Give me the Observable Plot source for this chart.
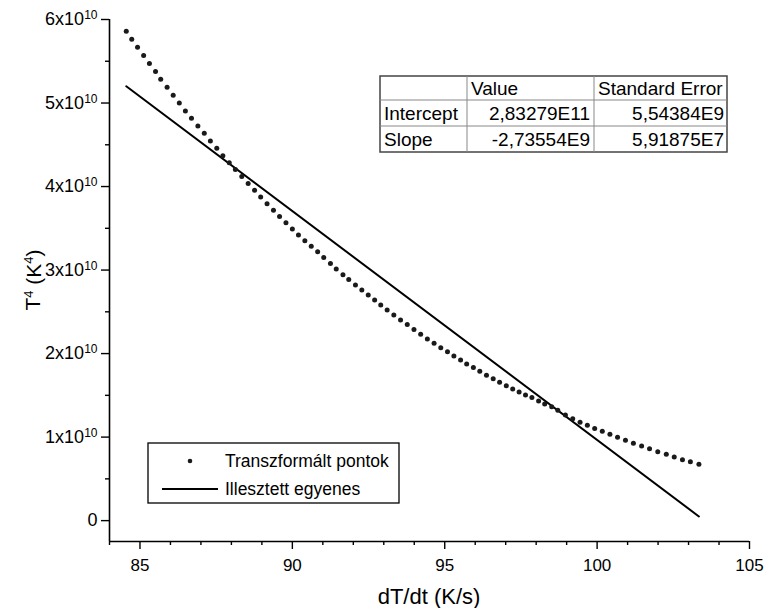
<!DOCTYPE html>
<html><head><meta charset="utf-8">
<script src="https://cdn.jsdelivr.net/npm/d3@7"></script>
<script src="https://cdn.jsdelivr.net/npm/@observablehq/plot@0.6"></script>
<style>
body{margin:0;background:#fff;}
svg{font-family:"Liberation Sans",Arial,sans-serif;}
</style>
</head><body><div id="chart"></div>
<script>
// dT/dt (K/s)
const dotX = [84.55,84.73,84.92,85.12,85.31,85.51,85.68,85.89,86.09,86.29,86.49,86.69,86.90,87.11,87.31,87.52,87.72,87.93,88.13,88.34,88.55,88.76,88.96,89.17,89.38,89.58,89.79,90.00,90.20,90.41,90.62,90.83,91.03,91.25,91.44,91.66,91.85,92.07,92.28,92.49,92.70,92.90,93.11,93.33,93.55,93.77,93.99,94.21,94.43,94.65,94.87,95.09,95.30,95.52,95.72,95.94,96.15,96.37,96.59,96.80,97.02,97.23,97.44,97.65,97.86,98.08,98.28,98.51,98.71,98.96,99.20,99.44,99.68,99.92,100.17,100.42,100.67,100.93,101.19,101.46,101.72,101.99,102.27,102.53,102.80,103.06,103.34];
// T^4 in units of 10^10 K^4
const dotY = [5.858,5.763,5.667,5.568,5.472,5.376,5.284,5.188,5.092,5.001,4.905,4.817,4.726,4.637,4.546,4.458,4.370,4.286,4.203,4.119,4.035,3.955,3.876,3.795,3.717,3.640,3.566,3.493,3.421,3.352,3.284,3.218,3.150,3.080,3.014,2.945,2.886,2.822,2.762,2.702,2.643,2.583,2.523,2.463,2.403,2.347,2.287,2.231,2.176,2.123,2.071,2.023,1.972,1.924,1.876,1.832,1.788,1.740,1.700,1.656,1.616,1.577,1.541,1.505,1.473,1.433,1.397,1.362,1.320,1.265,1.221,1.177,1.141,1.102,1.069,1.033,0.997,0.961,0.926,0.894,0.862,0.826,0.794,0.763,0.730,0.706,0.674];
// fitted line endpoints
const lineX = [84.55, 103.34];
const lineY = [5.20, 0.05];

const xTicks = [85, 90, 95, 100, 105];
const xMinor = [84, 86, 87, 88, 89, 91, 92, 93, 94, 96, 97, 98, 99, 101, 102, 103, 104];
const yTicks = [0, 1, 2, 3, 4, 5, 6];
const yTickLabels = ["0", "1x10^10", "2x10^10", "3x10^10", "4x10^10", "5x10^10", "6x10^10"];
const yMinor = [0.5, 1.5, 2.5, 3.5, 4.5, 5.5];

const xTitle = "dT/dt (K/s)";
const yTitleParts = ["T", "4", " (K", "4", ")"];

const legendLabels = ["Transzformált pontok", "Illesztett egyenes"];

const tableHeader = ["", "Value", "Standard Error"];
const tableRowNames = ["Intercept", "Slope"];
const tableValues = ["2,83279E11", "-2,73554E9"];
const tableErrors = ["5,54384E9", "5,91875E7"];

const dots = dotX.map((x, i) => ({x, y: dotY[i]}));
const fit = lineX.map((x, i) => ({x, y: lineY[i]}));

const chart = Plot.plot({
  width: 765, height: 608,
  marginLeft: 109, marginRight: 16, marginTop: 19, marginBottom: 67,
  style: {fontFamily: "'Liberation Sans', Arial, sans-serif", background: "#fff", overflow: "visible", color: "#000"},
  x: {domain: [84, 105], label: null},
  y: {domain: [-0.25, 6], label: null},
  marks: [
    Plot.axisX(xMinor, {tickSize: 4, tickFormat: () => "", label: null, strokeWidth: 1.4}),
    Plot.axisX(xTicks, {tickSize: 8, tickPadding: 9, fontSize: 17, tickFormat: d => String(d), label: null, strokeWidth: 1.4}),
    Plot.axisY(yMinor, {tickSize: 4, tickFormat: () => "", label: null, strokeWidth: 1.4}),
    Plot.axisY(yTicks, {tickSize: 8, tickPadding: 4, fontSize: 18, tickFormat: d => yTickLabels[yTicks.indexOf(d)], label: null, strokeWidth: 1.4}),
    Plot.ruleY([-0.25], {stroke: "#000", strokeWidth: 1.6}),
    Plot.ruleX([84], {stroke: "#000", strokeWidth: 1.6}),
    Plot.line(fit, {x: "x", y: "y", stroke: "#000", strokeWidth: 2}),
    Plot.dot(dots, {x: "x", y: "y", r: 2.5, fill: "#1a1a1a", stroke: "none"})
  ]
});
document.getElementById("chart").appendChild(chart);

const svg = d3.select(chart);
// superscripts in y tick labels
svg.selectAll('g[aria-label="y-axis tick label"] text').each(function () {
  const t = this.textContent;
  const parts = t.split("^");
  if (parts.length === 2) {
    const s = d3.select(this);
    s.text(null);
    s.append("tspan").text(parts[0]);
    s.append("tspan").attr("dy", "-0.5em").attr("font-size", "12px").text(parts[1]);
  }
});

// axis titles
svg.append("text")
  .attr("x", 429).attr("y", 604)
  .attr("text-anchor", "middle").attr("font-size", 22).attr("fill", "#000")
  .text(xTitle);
const yt = svg.append("text")
  .attr("transform", "translate(40,280) rotate(-90)")
  .attr("text-anchor", "middle").attr("font-size", 21).attr("fill", "#000");
yTitleParts.forEach((p, i) => {
  const sup = i % 2 === 1;
  const ts = yt.append("tspan").attr("fill", "#000").text(p);
  if (sup) ts.attr("font-size", 13).attr("dy", "-0.55em");
  else if (i > 0) ts.attr("dy", "0.37em");
});

// table
const tb = svg.append("g").attr("font-size", 19).attr("fill", "#000").attr("text-anchor", "start");
const colX = [380, 467, 594, 727];
const rowY = [76, 100, 126, 152];
tb.append("rect").attr("x", colX[0]).attr("y", rowY[0]).attr("width", colX[3] - colX[0]).attr("height", rowY[3] - rowY[0])
  .attr("fill", "#fff").attr("stroke", "#444").attr("stroke-width", 1.5);
[1, 2].forEach(i => {
  tb.append("line").attr("x1", colX[0]).attr("x2", colX[3]).attr("y1", rowY[i]).attr("y2", rowY[i]).attr("stroke", "#888").attr("stroke-width", 1);
  tb.append("line").attr("x1", colX[i]).attr("x2", colX[i]).attr("y1", rowY[0]).attr("y2", rowY[3]).attr("stroke", "#888").attr("stroke-width", 1);
});
tableHeader.forEach((h, j) => {
  if (h) tb.append("text").attr("text-anchor", "start").attr("x", colX[j] + 4).attr("y", rowY[1] - 5).text(h);
});
tableRowNames.forEach((r, i) => {
  const by = rowY[i + 2] - 6;
  tb.append("text").attr("text-anchor", "start").attr("x", colX[0] + 4).attr("y", by).text(r);
  tb.append("text").attr("text-anchor", "end").attr("x", colX[2] - 4).attr("y", by).text(tableValues[i]);
  tb.append("text").attr("text-anchor", "end").attr("x", colX[3] - 3).attr("y", by).text(tableErrors[i]);
});

// legend
const lg = svg.append("g").attr("font-size", 17.5).attr("fill", "#000").attr("text-anchor", "start");
lg.append("rect").attr("x", 148).attr("y", 443).attr("width", 251).attr("height", 60)
  .attr("fill", "#fff").attr("stroke", "#000").attr("stroke-width", 1.3);
lg.append("circle").attr("cx", 190).attr("cy", 461).attr("r", 2.3).attr("fill", "#1a1a1a");
lg.append("text").attr("text-anchor", "start").attr("x", 225).attr("y", 467).text(legendLabels[0]);
lg.append("line").attr("x1", 162).attr("x2", 218).attr("y1", 489).attr("y2", 489).attr("stroke", "#000").attr("stroke-width", 2);
lg.append("text").attr("text-anchor", "start").attr("x", 225).attr("y", 495).text(legendLabels[1]);
</script>
</body></html>
